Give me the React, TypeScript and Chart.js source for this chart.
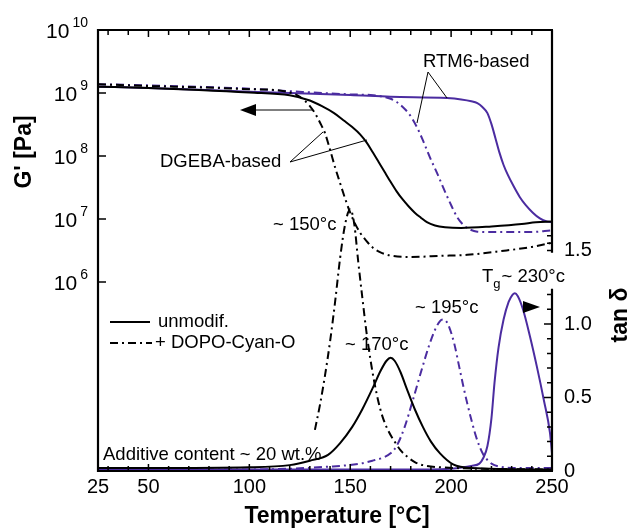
import React, { useEffect, useRef } from 'react';
import { Chart, registerables } from 'chart.js';

Chart.register(...registerables);

const FONT = '"Liberation Sans", Arial, Helvetica, sans-serif';
const PURPLE = '#4b2ca0';
const DASH_DOT = [8, 4, 2, 4];

// ---- G' (storage modulus, Pa) ----
const gDgebaT = [25, 50, 75, 100, 120, 130, 136, 142, 147, 151, 155, 158, 161, 164, 167, 170, 173, 176, 179, 182, 185, 188, 192, 197, 205, 220, 235, 242, 250];
const gDgebaPa = [1.26e9, 1.2e9, 1.12e9, 1.02e9, 9.2e8, 7.59e8, 6.17e8, 4.79e8, 3.63e8, 2.88e8, 2.19e8, 1.66e8, 1.17e8, 8.13e7, 5.62e7, 3.89e7, 2.75e7, 2.04e7, 1.58e7, 1.26e7, 1.05e7, 8.9e6, 7.9e6, 7.4e6, 7.2e6, 7.6e6, 8.3e6, 8.9e6, 9.1e6];

const gDgebaDopoT = [25, 50, 75, 100, 115, 120, 124, 127, 130, 132.5, 135, 137.5, 140, 142.5, 145, 147.5, 150, 152.5, 155, 158, 161, 165, 170, 180, 195, 208, 225, 240, 250];
const gDgebaDopoPa = [1.38e9, 1.29e9, 1.23e9, 1.15e9, 1.1e9, 1.02e9, 9.1e8, 7.8e8, 6.2e8, 4.8e8, 3.4e8, 2.3e8, 1.26e8, 6.6e7, 3.7e7, 2.1e7, 1.26e7, 8.3e6, 6.0e6, 4.5e6, 3.55e6, 2.95e6, 2.63e6, 2.5e6, 2.6e6, 2.7e6, 3.1e6, 3.6e6, 4.2e6];

const gRtmT = [25, 50, 100, 150, 170, 198, 205, 210, 213, 215.5, 218, 220, 222, 224, 226, 228, 231, 234, 237, 240.5, 244, 247.5, 250];
const gRtmPa = [1.26e9, 1.2e9, 1.05e9, 9.3e8, 8.7e8, 8.3e8, 7.9e8, 7.4e8, 6.9e8, 6.0e8, 4.8e8, 3.2e8, 1.9e8, 1.12e8, 7.2e7, 5.1e7, 3.3e7, 2.24e7, 1.66e7, 1.26e7, 1.02e7, 9.1e6, 8.9e6];

const gRtmDopoT = [25, 50, 100, 120, 150, 160, 165, 170, 173, 176, 179.5, 183, 186, 189.5, 193, 196, 199.5, 203, 206, 209, 213, 220, 239, 250];
const gRtmDopoPa = [1.38e9, 1.32e9, 1.17e9, 1.07e9, 9.5e8, 9.3e8, 8.9e8, 8.1e8, 7.2e8, 6.0e8, 4.5e8, 2.9e8, 1.78e8, 9.5e7, 5.4e7, 3.2e7, 1.8e7, 1.07e7, 8.1e6, 6.9e6, 6.3e6, 6.2e6, 6.2e6, 6.6e6];

// ---- tan delta ----
const tDgebaT = [25, 50, 100, 120, 130, 139, 145, 151, 156, 161, 165, 168, 170, 172, 175, 178, 182, 186, 190, 194.5, 201, 210, 250];
const tDgeba = [0.02, 0.02, 0.025, 0.04, 0.07, 0.11, 0.19, 0.3, 0.42, 0.56, 0.68, 0.75, 0.77, 0.75, 0.67, 0.56, 0.42, 0.3, 0.2, 0.12, 0.045, 0.02, 0.01];

const tDgebaDopoT = [132.5, 135, 137.5, 140, 142.5, 145, 147.5, 150, 152, 154, 156, 158, 160, 162, 164, 166, 169, 172, 175, 178, 182, 186, 195, 250];
const tDgebaDopo = [0.28, 0.45, 0.65, 0.88, 1.15, 1.45, 1.68, 1.78, 1.68, 1.42, 1.18, 0.95, 0.76, 0.6, 0.47, 0.37, 0.27, 0.2, 0.14, 0.1, 0.06, 0.04, 0.025, 0.01];

const tRtmT = [25, 150, 190, 200, 206, 210, 214, 216, 218, 220, 221.5, 223.5, 226, 228.5, 230.5, 231.6, 233, 235.6, 239, 242.5, 246, 249, 250];
const tRtm = [0.01, 0.01, 0.01, 0.015, 0.025, 0.035, 0.05, 0.09, 0.17, 0.36, 0.6, 0.84, 1.03, 1.15, 1.2, 1.21, 1.19, 1.1, 0.92, 0.71, 0.48, 0.26, 0.12];

const tRtmDopoT = [25, 100, 140, 155, 161, 166, 170, 173, 177, 181, 185, 189, 192, 194.5, 196, 197.5, 199, 201.5, 204, 206, 208, 210, 212, 214, 216, 218, 220, 224, 235, 250];
const tRtmDopo = [0.01, 0.01, 0.03, 0.05, 0.07, 0.09, 0.12, 0.17, 0.3, 0.48, 0.67, 0.85, 0.96, 1.02, 1.03, 1.02, 0.98, 0.87, 0.71, 0.58, 0.46, 0.35, 0.25, 0.17, 0.11, 0.075, 0.05, 0.03, 0.02, 0.02];

// ---- ticks ----
const xTickLabels = [25, 50, 100, 150, 200, 250];
const xMinorTicks = [30, 40, 50, 60, 70, 80, 90, 100, 110, 120, 130, 140, 150, 160, 170, 180, 190, 200, 210, 220, 230, 240];
const leftDecades = [6, 7, 8, 9, 10];
const rightTickLabels = [0, 0.5, 1.0, 1.5];
const rightMinorTicks = [0, 0.1, 0.2, 0.3, 0.4, 0.5, 0.6, 0.7, 0.8, 0.9, 1.0, 1.1, 1.2];
const rightUpperTicks = [1.5, 1.55, 1.6];

const pts = (xs: number[], ys: number[]) => xs.map((x, i) => ({ x, y: ys[i] }));

const decor = {
  id: 'decor',
  afterDraw(chart: any) {
    const { ctx, chartArea: a, scales } = chart;
    const sx = scales.x, sl = scales.yL, sr = scales.yR;
    ctx.save();
    ctx.strokeStyle = '#000';
    ctx.fillStyle = '#000';

    // ticks
    ctx.lineWidth = 1.5;
    ctx.beginPath();
    for (const v of xMinorTicks) {
      const px = sx.getPixelForValue(v);
      const len = v % 50 === 0 ? 7 : 5;
      ctx.moveTo(px, a.bottom); ctx.lineTo(px, a.bottom - len);
      ctx.moveTo(px, a.top); ctx.lineTo(px, a.top + len);
    }
    for (const d of leftDecades) {
      const py = sl.getPixelForValue(Math.pow(10, d));
      ctx.moveTo(a.left, py); ctx.lineTo(a.left + 8, py);
    }
    for (const v of rightMinorTicks) {
      const py = sr.getPixelForValue(v);
      const major = Math.abs(v * 2 - Math.round(v * 2)) < 1e-6;
      ctx.moveTo(a.right, py); ctx.lineTo(a.right - (major ? 8 : 5), py);
    }
    for (const v of rightUpperTicks) {
      const py = sr.getPixelForValue(v);
      ctx.moveTo(a.right, py); ctx.lineTo(a.right - 5, py);
    }
    ctx.stroke();

    // frame
    ctx.lineWidth = 2.2;
    ctx.beginPath();
    ctx.moveTo(a.left, a.top - 1); ctx.lineTo(a.left, a.bottom + 1);
    ctx.moveTo(a.left - 1, a.bottom); ctx.lineTo(a.right + 1, a.bottom);
    ctx.moveTo(a.left - 1, a.top); ctx.lineTo(a.right + 1, a.top);
    ctx.moveTo(a.right, a.top); ctx.lineTo(a.right, sr.getPixelForValue(1.485));
    ctx.moveTo(a.right, sr.getPixelForValue(1.24)); ctx.lineTo(a.right, a.bottom);
    ctx.stroke();

    // left tick labels 10^n
    ctx.textBaseline = 'alphabetic';
    ctx.textAlign = 'right';
    for (const d of leftDecades) {
      const py = sl.getPixelForValue(Math.pow(10, d));
      const exp = String(d);
      ctx.font = `14px ${FONT}`;
      const xr = a.left - 10;
      ctx.fillText(exp, xr, py - 3);
      const w = ctx.measureText(exp).width;
      ctx.font = `21px ${FONT}`;
      ctx.fillText('10', xr - w - 3, py + 7.5);
    }

    // axis titles
    ctx.textAlign = 'center';
    ctx.textBaseline = 'middle';
    ctx.font = `bold 23px ${FONT}`;
    ctx.fillText('Temperature [°C]', (a.left + a.right) / 2 + 12, a.bottom + 46);
    ctx.save();
    ctx.translate(25, a.top + 122);
    ctx.rotate(-Math.PI / 2);
    ctx.fillText("G' [Pa]", 0, 0);
    ctx.restore();
    ctx.save();
    ctx.translate(a.right + 69, a.top + 285);
    ctx.rotate(-Math.PI / 2);
    ctx.fillText('tan δ', 0, 0);
    ctx.restore();

    // annotations
    const L = a.left, T = a.top;
    ctx.textAlign = 'left';
    ctx.font = `18.5px ${FONT}`;
    ctx.fillText('RTM6-based', L + 325, T + 32);
    ctx.fillText('DGEBA-based', L + 62, T + 132);
    ctx.fillText('~ 150°c', L + 175, T + 195);
    ctx.fillText('~ 170°c', L + 247, T + 315);
    ctx.fillText('~ 195°c', L + 317, T + 278);
    ctx.fillText('unmodif.', L + 60, T + 292);
    ctx.fillText('+ DOPO-Cyan-O', L + 57, T + 313);
    ctx.fillText('Additive content ~ 20 wt.%', L + 5, T + 425);
    // T_g ~ 230°c
    let tx = L + 384;
    const ty = T + 247;
    ctx.fillText('T', tx, ty);
    tx += ctx.measureText('T').width;
    ctx.font = `13px ${FONT}`;
    ctx.fillText('g', tx, ty + 7);
    tx += ctx.measureText('g').width + 1;
    ctx.font = `18.5px ${FONT}`;
    ctx.fillText('~ 230°c', tx, ty);

    // leader lines
    ctx.lineWidth = 1;
    ctx.beginPath();
    ctx.moveTo(L + 330, T + 42); ctx.lineTo(L + 349, T + 68);
    ctx.moveTo(L + 330, T + 42); ctx.lineTo(L + 319, T + 93);
    ctx.moveTo(L + 192, T + 132); ctx.lineTo(L + 225, T + 102);
    ctx.moveTo(L + 192, T + 132); ctx.lineTo(L + 269, T + 110);
    ctx.moveTo(L + 215, T + 80); ctx.lineTo(L + 155, T + 80);
    ctx.stroke();
    // arrowheads
    ctx.beginPath();
    ctx.moveTo(L + 142, T + 80); ctx.lineTo(L + 158, T + 74); ctx.lineTo(L + 158, T + 86); ctx.closePath();
    ctx.fill();
    ctx.beginPath();
    ctx.moveTo(L + 442, T + 277); ctx.lineTo(L + 425, T + 271); ctx.lineTo(L + 425, T + 283); ctx.closePath();
    ctx.fill();

    // legend samples
    ctx.lineWidth = 2;
    ctx.beginPath();
    ctx.moveTo(L + 12, T + 292); ctx.lineTo(L + 52, T + 292);
    ctx.stroke();
    ctx.setLineDash(DASH_DOT);
    ctx.beginPath();
    ctx.moveTo(L + 12, T + 313); ctx.lineTo(L + 54, T + 313);
    ctx.stroke();
    ctx.setLineDash([]);

    ctx.restore();
  },
};

export default function App() {
  const ref = useRef<HTMLCanvasElement | null>(null);
  useEffect(() => {
    if (!ref.current) return;
    const base = { pointRadius: 0, borderWidth: 2, fill: false, cubicInterpolationMode: 'monotone' as const };
    const chart = new Chart(ref.current, {
      type: 'line',
      data: {
        datasets: [
          { ...base, label: "G' DGEBA", data: pts(gDgebaT, gDgebaPa), borderColor: '#000', yAxisID: 'yL' },
          { ...base, label: "G' DGEBA + DOPO", data: pts(gDgebaDopoT, gDgebaDopoPa), borderColor: '#000', borderDash: DASH_DOT, yAxisID: 'yL' },
          { ...base, label: "G' RTM6", data: pts(gRtmT, gRtmPa), borderColor: PURPLE, yAxisID: 'yL' },
          { ...base, label: "G' RTM6 + DOPO", data: pts(gRtmDopoT, gRtmDopoPa), borderColor: PURPLE, borderDash: DASH_DOT, yAxisID: 'yL' },
          { ...base, label: 'tan d DGEBA', data: pts(tDgebaT, tDgeba), borderColor: '#000', yAxisID: 'yR' },
          { ...base, label: 'tan d DGEBA + DOPO', data: pts(tDgebaDopoT, tDgebaDopo), borderColor: '#000', borderDash: DASH_DOT, yAxisID: 'yR' },
          { ...base, label: 'tan d RTM6', data: pts(tRtmT, tRtm), borderColor: PURPLE, yAxisID: 'yR' },
          { ...base, label: 'tan d RTM6 + DOPO', data: pts(tRtmDopoT, tRtmDopo), borderColor: PURPLE, borderDash: DASH_DOT, yAxisID: 'yR' },
        ],
      },
      options: {
        responsive: false,
        animation: false,
        devicePixelRatio: 1,
        layout: { padding: { top: 30, left: 0, right: 0, bottom: 0 } },
        plugins: { legend: { display: false }, tooltip: { enabled: false } },
        scales: {
          x: {
            type: 'linear', min: 25, max: 250,
            grid: { display: false, drawTicks: false },
            border: { display: false },
            afterBuildTicks: (s: any) => { s.ticks = xTickLabels.map((v) => ({ value: v })); },
            ticks: { font: { family: FONT, size: 20 }, color: '#000', padding: 4, maxRotation: 0, autoSkip: false },
            afterFit: (s: any) => { s.height = 60; },
          },
          yL: {
            type: 'logarithmic', position: 'left', min: 1e3, max: 1e10,
            grid: { display: false, drawTicks: false },
            border: { display: false },
            ticks: { display: false },
            afterFit: (s: any) => { s.width = 98; },
          },
          yR: {
            type: 'linear', position: 'right', min: 0, max: 3,
            grid: { display: false, drawTicks: false },
            border: { display: false },
            afterBuildTicks: (s: any) => { s.ticks = rightTickLabels.map((v) => ({ value: v })); },
            ticks: {
              font: { family: FONT, size: 20 }, color: '#000', padding: 12, autoSkip: false,
              callback: (v: any) => (Number(v) === 0 ? '0' : Number(v).toFixed(1)),
            },
            afterFit: (s: any) => { s.width = 79; },
          },
        },
      } as any,
      plugins: [decor],
    });
    return () => chart.destroy();
  }, []);
  return (
    <div style={{ position: 'fixed', left: 0, top: 0, width: 631, height: 531, background: '#fff' }}>
      <canvas ref={ref} width={631} height={531} style={{ display: 'block', width: 631, height: 531 }} />
    </div>
  );
}
